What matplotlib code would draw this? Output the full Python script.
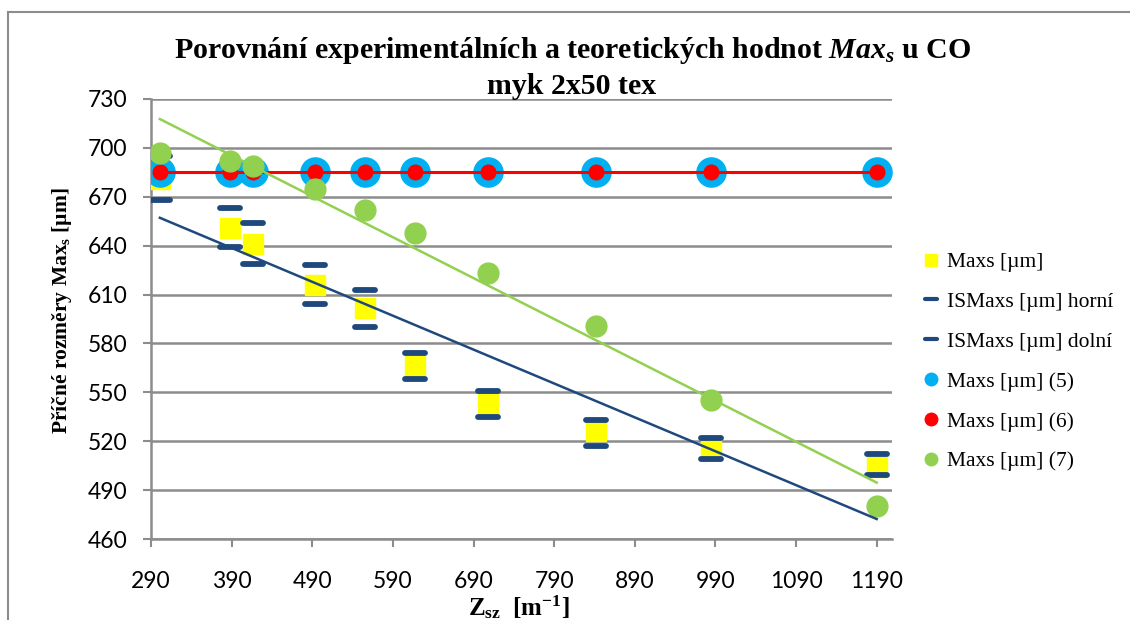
import numpy as np
import matplotlib
matplotlib.use("Agg")
import matplotlib.pyplot as plt
from matplotlib.lines import Line2D
from matplotlib.markers import MarkerStyle

# ------------------------------------------------------------------ #
# Data
# ------------------------------------------------------------------ #
z_sz = [301, 388, 417, 494, 556, 617, 708, 842, 984, 1190]

maxs = [681, 651, 641, 616, 602, 566, 543, 526, 516, 504]
is_horni = [695, 663, 654, 628, 613, 574, 551, 533, 522, 512]
is_dolni = [668, 639, 629, 604, 590, 558, 535, 517, 509, 499]
maxs_5 = [685, 685, 685, 685, 685, 685, 685, 685, 685, 685]
maxs_6 = [685, 685, 685, 685, 685, 685, 685, 685, 685, 685]
maxs_7 = [697, 692, 689, 675, 662, 648, 623, 591, 545, 480]

x_ticks = [290, 390, 490, 590, 690, 790, 890, 990, 1090, 1190]
y_ticks = [460, 490, 520, 550, 580, 610, 640, 670, 700, 730]

title_1 = "Porovnání experimentálních a teoretických hodnot $\\mathit{Max_s}$ u CO"
title_2 = "myk 2x50 tex"

# ------------------------------------------------------------------ #
# Styling
# ------------------------------------------------------------------ #
plt.rcParams["mathtext.fontset"] = "custom"
plt.rcParams["mathtext.rm"] = "Liberation Serif:bold"
plt.rcParams["mathtext.it"] = "Liberation Serif:italic:bold"
plt.rcParams["mathtext.bf"] = "Liberation Serif:bold"

GRID = "#8c8c8c"
YELLOW = "#FFFF00"
NAVY = "#1F497D"
CYAN = "#00B0F0"
RED = "#FF0000"
GREEN = "#92D050"

W, H = 1130, 620
fig = plt.figure(figsize=(W / 100, H / 100), dpi=100)
ax = fig.add_axes([151 / W, 1 - 539 / H, (892 - 151) / W, (539 - 99) / H])

x = np.array(z_sz, dtype=float)

# Markers (draw order follows the reference: squares, dashes, circles)
dash = MarkerStyle("_", capstyle="round")
ax.plot(x, maxs, ls="none", marker="s", ms=15, mfc=YELLOW, mec=YELLOW,
        zorder=3, label="Maxs [µm]")
ax.plot(x, is_horni, ls="none", marker=dash, ms=14, mew=4.2, color=NAVY,
        zorder=3, label="ISMaxs [µm] horní")
ax.plot(x, is_dolni, ls="none", marker=dash, ms=14, mew=4.2, color=NAVY,
        zorder=3, label="ISMaxs [µm] dolní")
ax.plot(x, maxs_5, ls="none", marker="o", ms=21, mfc=CYAN, mec=CYAN,
        zorder=4, label="Maxs [µm] (5)")
ax.plot(x, maxs_6, ls="-", lw=2.2, color=RED, marker="o", ms=10.5,
        mfc=RED, mec=RED, zorder=5, label="Maxs [µm] (6)")
ax.plot(x, maxs_7, ls="none", marker="o", ms=15, mfc=GREEN, mec=GREEN,
        zorder=6, label="Maxs [µm] (7)")

# Linear trend lines (Excel-style) for Maxs and Maxs (7)
xs = np.array([x.min(), x.max()])
for series, col in [(maxs, NAVY), (maxs_7, GREEN)]:
    k, q = np.polyfit(x, series, 1)
    ax.plot(xs, k * xs + q, color=col, lw=1.8, zorder=7)

# Axes
ax.set_xlim(290, 1209)
ax.set_ylim(460, 730)
ax.set_xticks(x_ticks)
ax.set_yticks(y_ticks)
ax.yaxis.grid(True, color=GRID, lw=1.8)
ax.set_axisbelow(True)
for s in ["top", "right"]:
    ax.spines[s].set_visible(False)
for s in ["left", "bottom"]:
    ax.spines[s].set_color(GRID)
    ax.spines[s].set_linewidth(1.8)
ax.tick_params(axis="both", colors=GRID, length=6, width=1.5, direction="out",
               labelcolor="black", labelsize=16.5)
ax.tick_params(axis="x", pad=17)
ax.tick_params(axis="y", pad=11)
for lab in ax.get_xticklabels() + ax.get_yticklabels():
    lab.set_fontfamily("Lato")

# Titles and labels
title_kw = dict(ha="center", va="center", fontsize=21.5, fontweight="bold",
                family="Liberation Serif")
fig.text(572 / W, 1 - 50 / H, title_1, **title_kw)
fig.text(572 / W, 1 - 86 / H, title_2, **title_kw)
fig.text(62 / W, 1 - 311 / H, "Příčné rozměry Max$_\\mathrm{s}$ [µm]",
         rotation=90, ha="center", va="center", fontsize=15.5,
         fontweight="bold", family="Liberation Serif")
fig.text(519 / W, 1 - 607 / H, "Z$_\\mathrm{sz}$  [m$^\\mathrm{-1}$]",
         ha="center", va="center", fontsize=18, fontweight="bold",
         family="Liberation Serif")

# Legend
handles = [
    Line2D([], [], ls="none", marker="s", ms=9, mfc=YELLOW, mec=YELLOW),
    Line2D([], [], ls="none", marker=dash, ms=8, mew=3, color=NAVY),
    Line2D([], [], ls="none", marker=dash, ms=8, mew=3, color=NAVY),
    Line2D([], [], ls="none", marker="o", ms=9, mfc=CYAN, mec=CYAN),
    Line2D([], [], ls="none", marker="o", ms=9, mfc=RED, mec=RED),
    Line2D([], [], ls="none", marker="o", ms=9, mfc=GREEN, mec=GREEN),
]
labels = ["Maxs [µm]", "ISMaxs [µm] horní", "ISMaxs [µm] dolní",
          "Maxs [µm] (5)", "Maxs [µm] (6)", "Maxs [µm] (7)"]
fig.legend(handles, labels, loc="upper left",
           bbox_to_anchor=(922 / W, 1 - 252 / H), frameon=False,
           prop={"family": "Liberation Serif", "size": 15.5},
           handlelength=0.8, handletextpad=0.35, labelspacing=0.92,
           borderaxespad=0, borderpad=0)

# Outer chart border (only top and left edges are visible in the crop)
fig.add_artist(Line2D([8 / W, 1], [1 - 12 / H, 1 - 12 / H],
                      transform=fig.transFigure, color=GRID, lw=1.5))
fig.add_artist(Line2D([8 / W, 8 / W], [0, 1 - 12 / H],
                      transform=fig.transFigure, color=GRID, lw=1.5))

fig.savefig("out.png", dpi=100)
